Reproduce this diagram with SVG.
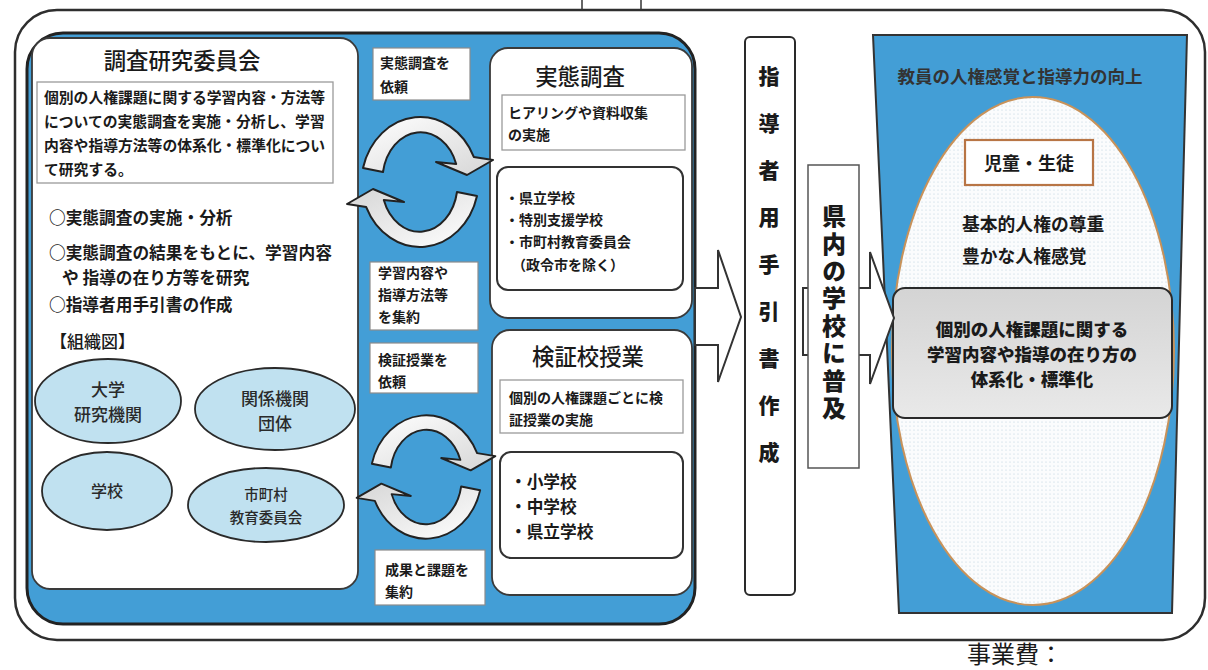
<svg xmlns="http://www.w3.org/2000/svg" width="1208" height="670" viewBox="0 0 1208 670">
<style>
text{font-family:"Noto Sans CJK JP","Noto Sans CJK SC",sans-serif;fill:#1a1a1a}
.t{font-size:22.4px;font-weight:500;text-anchor:middle}
.body{font-size:14.8px;font-weight:700}
.item{font-size:16.7px;font-weight:700}
.lbl{font-size:14px;font-weight:700}
.org{font-weight:500;fill:#2a2a2a;text-anchor:middle}
.vt{font-weight:900;writing-mode:vertical-rl;text-anchor:start}
.c{text-anchor:middle}
.wbox{fill:#fff;stroke:#3a3a3a;stroke-width:1.8}
.sub{fill:#fff;stroke:#9a9a9a;stroke-width:1.3}
.lab{fill:#fff;stroke:#8c8c8c;stroke-width:1.2}
.ell{fill:#c0e1f0;stroke:#2a2a2a;stroke-width:1.8}
.blk{fill:#fff;stroke:#333;stroke-width:2}
.cyc{fill:url(#cycG);stroke:#222;stroke-width:2;stroke-linejoin:round}
.blue{fill:#439ed6}
</style>
<defs>
<linearGradient id="cycG" x1="0" y1="0" x2="1" y2="1">
<stop offset="0" stop-color="#ffffff"/><stop offset="1" stop-color="#d6d6d6"/>
</linearGradient>
<linearGradient id="grayG" x1="0" y1="0" x2="0" y2="1">
<stop offset="0" stop-color="#d4d4d4"/><stop offset="1" stop-color="#e9e9e9"/>
</linearGradient>
<pattern id="dots" width="4" height="4" patternUnits="userSpaceOnUse">
<rect width="4" height="4" fill="#fbfcfd"/><circle cx="2" cy="2" r="0.6" fill="#b9cfdd"/>
</pattern>
<path id="arcArrow" d="M -57,-14 A 59,68 0 0 1 53.8,-25.1 L 73,-22 L 47,-7 L 16,-20 L 36.2,-18 A 38,48 0 0 0 -37,-10 Z"/>
</defs>

<!-- outer frame -->
<g id="frame">
<rect x="15" y="10" width="1190" height="630" rx="42" ry="42" fill="#fff" stroke="#2e2e2e" stroke-width="2.5"/>
<line x1="582" y1="0" x2="582" y2="10" stroke="#333" stroke-width="1.5"/>
<line x1="641" y1="0" x2="641" y2="10" stroke="#333" stroke-width="1.5"/>
</g>

<!-- blue panel -->
<g id="panel">
<rect x="27" y="33" width="668" height="591" rx="36" ry="36" class="blue" stroke="#222" stroke-width="3"/>
</g>

<!-- left committee box -->
<g id="committee">
<rect x="32" y="38" width="326" height="551" rx="18" ry="18" class="wbox"/>
<text x="182" y="69" class="t">調査研究委員会</text>
<rect x="37" y="82" width="296" height="101" class="sub"/>
<text class="body" x="44" y="103">個別の人権課題に関する学習内容・方法等</text>
<text class="body" x="44" y="127">についての実態調査を実施・分析し、学習</text>
<text class="body" x="44" y="151">内容や指導方法等の体系化・標準化につい</text>
<text class="body" x="44" y="175">て研究する。</text>
<text class="item" x="49" y="224">○実態調査の実施・分析</text>
<text class="item" x="49" y="259">○実態調査の結果をもとに、学習内容</text>
<text class="item" x="62" y="284">や 指導の在り方等を研究</text>
<text class="item" x="49" y="311">○指導者用手引書の作成</text>
<text x="50" y="348" style="font-size:17px;font-weight:500">【組織図】</text>
</g>

<g id="org-univ">
<ellipse cx="108" cy="401" rx="73" ry="42" class="ell"/>
<text x="108" y="396" class="org" style="font-size:17px">大学</text>
<text x="108" y="421" class="org" style="font-size:17px">研究機関</text>
</g>
<g id="org-rel">
<ellipse cx="275" cy="409" rx="80" ry="41" class="ell"/>
<text x="275" y="405" class="org" style="font-size:17px">関係機関</text>
<text x="275" y="430" class="org" style="font-size:17px">団体</text>
</g>
<g id="org-school">
<ellipse cx="107" cy="491" rx="65" ry="39" class="ell"/>
<text x="107" y="497" class="org" style="font-size:16px">学校</text>
</g>
<g id="org-board">
<ellipse cx="266" cy="505" rx="78" ry="37" class="ell"/>
<text x="266" y="500" class="org" style="font-size:14.5px">市町村</text>
<text x="266" y="523" class="org" style="font-size:14.5px">教育委員会</text>
</g>

<!-- survey box -->
<g id="survey">
<rect x="490" y="48" width="202" height="270" rx="18" ry="18" class="wbox"/>
<text x="580" y="85" class="t">実態調査</text>
<rect x="502" y="95" width="183" height="55" class="sub"/>
<text class="lbl" x="508" y="118">ヒアリングや資料収集</text>
<text class="lbl" x="508" y="140">の実施</text>
<rect x="497" y="167" width="186" height="123" rx="11" ry="11" fill="#fff" stroke="#333" stroke-width="2"/>
<text class="lbl" x="505" y="203">・県立学校</text>
<text class="lbl" x="505" y="225">・特別支援学校</text>
<text class="lbl" x="505" y="247">・市町村教育委員会</text>
<text class="lbl" x="512" y="270">（政令市を除く）</text>
</g>

<!-- verification box -->
<g id="verify">
<rect x="492" y="330" width="200" height="265" rx="18" ry="18" class="wbox"/>
<text x="588" y="365" class="t">検証校授業</text>
<rect x="500" y="380" width="183" height="53" class="sub"/>
<text class="lbl" x="509" y="403">個別の人権課題ごとに検</text>
<text class="lbl" x="509" y="425">証授業の実施</text>
<rect x="500" y="452" width="183" height="106" rx="11" ry="11" fill="#fff" stroke="#333" stroke-width="2"/>
<text class="item" x="510" y="488">・小学校</text>
<text class="item" x="510" y="513">・中学校</text>
<text class="item" x="510" y="538">・県立学校</text>
</g>

<!-- middle labels -->
<g id="lab-request-survey">
<rect x="373" y="48" width="97" height="52" class="lab"/>
<text class="lbl" x="380" y="68">実態調査を</text>
<text class="lbl" x="380" y="92">依頼</text>
</g>
<g id="lab-collect">
<rect x="370" y="262" width="108" height="68" class="lab"/>
<text class="lbl" x="378" y="278">学習内容や</text>
<text class="lbl" x="378" y="300">指導方法等</text>
<text class="lbl" x="378" y="322">を集約</text>
</g>
<g id="lab-request-lesson">
<rect x="370" y="343" width="108" height="50" class="lab"/>
<text class="lbl" x="378" y="365">検証授業を</text>
<text class="lbl" x="378" y="387">依頼</text>
</g>
<g id="lab-results">
<rect x="375" y="550" width="110" height="55" class="lab"/>
<text class="lbl" x="385" y="575">成果と課題を</text>
<text class="lbl" x="385" y="597">集約</text>
</g>

<!-- right panel -->
<g id="goal">
<polygon points="873,35 1187,35 1172,613 899,613" class="blue" stroke="#333" stroke-width="2"/>
<text x="1020" y="83" class="c" style="font-size:17.5px;font-weight:700;fill:#333">教員の人権感覚と指導力の向上</text>
<ellipse cx="1033" cy="351" rx="141" ry="254" fill="url(#dots)" stroke="#c8925a" stroke-width="2"/>
<rect x="965" y="140" width="128" height="45" fill="#fff" stroke="#b87545" stroke-width="2.2"/>
<text x="1029" y="170" class="c" style="font-size:18px;font-weight:700">児童・生徒</text>
<text x="962" y="231" style="font-size:17.8px;font-weight:700">基本的人権の尊重</text>
<text x="962" y="263" style="font-size:17.8px;font-weight:700">豊かな人権感覚</text>
<rect x="893" y="288" width="279" height="130" rx="12" ry="12" fill="url(#grayG)" stroke="#2a2a2a" stroke-width="2"/>
<text x="1032" y="336" class="c" style="font-size:17.5px;font-weight:900">個別の人権課題に関する</text>
<text x="1032" y="361" class="c" style="font-size:17.5px;font-weight:900">学習内容や指導の在り方の</text>
<text x="1032" y="386" class="c" style="font-size:17.5px;font-weight:900">体系化・標準化</text>
</g>

<!-- connectors -->
<g id="connectors">
<use href="#arcArrow" class="cyc" transform="translate(420,182)"/>
<use href="#arcArrow" class="cyc" transform="translate(420,182) rotate(180)"/>
<use href="#arcArrow" class="cyc" transform="translate(426,477) scale(0.95)"/>
<use href="#arcArrow" class="cyc" transform="translate(426,477) scale(0.95) rotate(180)"/>
<polygon points="695,288 718,288 718,250 741,317 718,382 718,345 695,345" class="blk"/>
<polygon points="803,288 870,288 870,252 894,318 870,384 870,355 803,355" class="blk"/>
</g>

<!-- manual box -->
<g id="manual">
<rect x="745" y="37" width="50" height="558" rx="5" ry="5" fill="#fff" stroke="#2a2a2a" stroke-width="2"/>
<text x="769" y="66" class="vt" style="font-size:21px;letter-spacing:26px">指導者用手引書作成</text>
</g>

<!-- spread box -->
<g id="spread">
<rect x="808" y="165" width="51" height="303" fill="#fff" stroke="#555" stroke-width="1.5"/>
<text x="834" y="204" class="vt" style="font-size:24px;letter-spacing:3.4px">県内の学校に普及</text>
</g>

<g id="cost">
<text x="967" y="663" style="font-size:24px;font-weight:400">事業費：</text>
</g>
</svg>
